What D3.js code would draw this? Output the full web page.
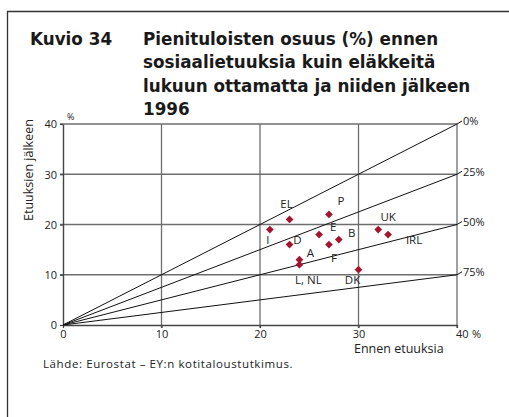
<!DOCTYPE html>
<html><head><meta charset="utf-8">
<script src="https://cdn.jsdelivr.net/npm/d3@7"></script>
<style>
body{margin:0;background:#fff}
text{font-family:"Open Sans",sans-serif;fill:#222}
.title{font-family:"DejaVu Sans",sans-serif;font-weight:700;font-size:16.8px;fill:#1a1a1a}
</style>
</head><body>
<svg id="chart" width="509" height="417"></svg>
<script>
// Poverty rates (%) before and after social transfers (pensions excluded), 1996
const countries = ["I", "EL", "P", "E", "D", "B", "F", "A", "L, NL", "DK", "UK", "IRL"];
const beforeTransfers = [21, 23, 27, 26, 23, 28, 27, 24, 24, 30, 32, 33];
const afterTransfers = [19, 21, 22, 18, 16, 17, 16, 13, 12, 11, 19, 18];
// Reference rays: reduction achieved by transfers (%)
const reductions = [0, 25, 50, 75];
const xTicks = [0, 10, 20, 30, 40];
const yTicks = [0, 10, 20, 30, 40];
const titleLines = ["Pienituloisten osuus (%) ennen", "sosiaalietuuksia kuin eläkkeitä",
  "lukuun ottamatta ja niiden jälkeen", "1996"];

// label placement around each marker (pixel offsets)
const labelOffset = {
  "I": [-2, 10], "EL": [-3, -16], "P": [12, -14], "E": [14, -8], "D": [8, -5],
  "B": [13, -7], "F": [5, 13], "A": [11, -7], "L, NL": [9, 15], "DK": [-6, 10],
  "UK": [10, -13], "IRL": [26, 5]
};

const svg = d3.select("#chart");
const gridColor = "#6e6e6e";

// frame
svg.append("path").attr("d", "M7.5,417V11.5H509").attr("fill", "none")
  .attr("stroke", "#333").attr("stroke-width", 1.3);

// title
svg.append("text").attr("class", "title").attr("x", 30).attr("y", 45).text("Kuvio 34");
svg.append("g").selectAll("text").data(titleLines).join("text").attr("class", "title")
  .attr("x", 143).attr("y", (d, i) => 45 + i * 23.3).text(d => d);

const x = d3.scaleLinear().domain([0, 40]).range([63, 457]);
const y = d3.scaleLinear().domain([0, 40]).range([325, 124]);

// grid
const g = svg.append("g");
g.selectAll("line.v").data(xTicks.slice(1)).join("line")
  .attr("x1", d => x(d)).attr("x2", d => x(d)).attr("y1", y(0) + 3).attr("y2", y(40))
  .attr("stroke", gridColor).attr("stroke-width", 1.3);
g.selectAll("line.h").data(yTicks.slice(1)).join("line")
  .attr("x1", x(0) - 3).attr("x2", x(40)).attr("y1", d => y(d)).attr("y2", d => y(d))
  .attr("stroke", gridColor).attr("stroke-width", 1.3);

// axes
const xAxis = svg.append("g").attr("transform", `translate(0,${y(0)})`)
  .call(d3.axisBottom(x).tickValues(xTicks).tickSize(3).tickSizeOuter(0));
const yAxis = svg.append("g").attr("transform", `translate(${x(0)},0)`)
  .call(d3.axisLeft(y).tickValues(yTicks).tickSize(3).tickSizeOuter(0));
[xAxis, yAxis].forEach(a => {
  a.select(".domain").attr("stroke", "#444").attr("stroke-width", 1.4);
  a.selectAll(".tick line").attr("stroke", "#444").attr("stroke-width", 1.2);
  a.selectAll(".tick text").style("font-size", "11px").style("font-family", "Open Sans")
    .attr("fill", "#222");
});
xAxis.selectAll(".tick text").attr("dy", "0.72em").attr("y", 5);
xAxis.selectAll(".tick text").filter(d => d === 40).attr("text-anchor", "start").attr("x", -1.5);
yAxis.selectAll(".tick text").attr("x", -6).attr("dy", "0.36em");
svg.append("text").attr("x", 472).attr("y", y(0) + 13).text("%").style("font-size", "11px");
svg.append("text").attr("x", 67).attr("y", y(40) - 4).text("%").style("font-size", "9px");

// axis titles
svg.append("text").attr("x", 354).attr("y", 353).text("Ennen etuuksia").style("font-size", "12.5px");
svg.append("text").attr("transform", "translate(33,221) rotate(-90)")
  .text("Etuuksien jälkeen").style("font-size", "12.5px");

// reduction rays from origin
const rays = svg.append("g");
rays.selectAll("line").data(reductions).join("line")
  .attr("x1", x(0)).attr("y1", y(0))
  .attr("x2", x(40)).attr("y2", d => y(40 * (1 - d / 100)))
  .attr("stroke", "#111").attr("stroke-width", 1);
rays.selectAll("path").data(reductions).join("path")
  .attr("d", d => `M${x(40)},${y(40 * (1 - d / 100))}l5,-3`)
  .attr("stroke", "#111").attr("fill", "none");
rays.selectAll("text").data(reductions).join("text")
  .attr("x", x(40) + 6).attr("y", d => y(40 * (1 - d / 100)) - 2.5)
  .attr("dy", "0.36em").text(d => d + "%").style("font-size", "11px");

// country markers
const pts = countries.map((c, i) => ({c, bx: beforeTransfers[i], ay: afterTransfers[i]}));
svg.append("g").selectAll("path").data(pts).join("path")
  .attr("transform", d => `translate(${x(d.bx)},${y(d.ay)})`)
  .attr("d", d3.symbol(d3.symbolDiamond2, 38))
  .attr("fill", "#a3142f");
svg.append("g").selectAll("text").data(pts).join("text")
  .attr("x", d => x(d.bx) + labelOffset[d.c][0])
  .attr("y", d => y(d.ay) + labelOffset[d.c][1])
  .attr("text-anchor", "middle").attr("dy", "0.36em")
  .text(d => d.c).style("font-size", "11.5px");

// source
svg.append("text").attr("x", 43).attr("y", 368)
  .text("Lähde: Eurostat – EY:n kotitaloustutkimus.")
  .style("font-size", "11.5px").style("letter-spacing", "0.6px");
</script>
</body></html>
